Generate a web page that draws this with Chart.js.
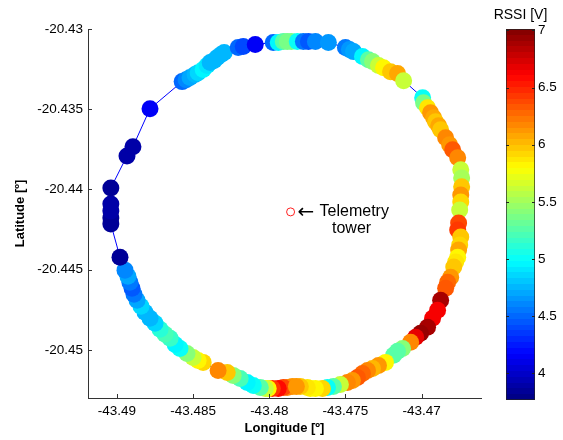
<!DOCTYPE html>
<html><head><meta charset="utf-8">
<script src="https://cdn.jsdelivr.net/npm/chart.js@4/dist/chart.umd.min.js"></script>
<style>
html,body{margin:0;padding:0;background:#fff;}
#wrap{position:relative;width:563px;height:440px;}
#main{position:absolute;left:0;top:0;}
#cb{position:absolute;left:490px;top:0;}
</style></head><body>
<div id="wrap"><canvas id="main" width="563" height="440"></canvas><canvas id="cb" width="73" height="440"></canvas></div>
<script>
const lon = [-43.47849,-43.47882,-43.47908,-43.47941,-43.47980,-43.48007,-43.48026,-43.48059,-43.48105,-43.48145,-43.48191,-43.48237,-43.48276,-43.48336,-43.48434,-43.48467,-43.48500,-43.48540,-43.48586,-43.48618,-43.48651,-43.48684,-43.48717,-43.48750,-43.48783,-43.48816,-43.48842,-43.48868,-43.48888,-43.48901,-43.48915,-43.48928,-43.48947,-43.48980,
-43.49040,-43.49040,-43.49040,-43.49040,-43.49040,-43.48934,-43.48895,-43.48783,-43.48572,-43.48546,-43.48520,-43.48487,-43.48467,-43.48434,-43.48408,-43.48388,-43.48362,-43.48342,-43.48316,-43.48296,-43.48204,-43.48171,-43.48092,-43.47974,-43.47941,-43.47908,-43.47882,-43.47855,-43.47816,-43.47776,-43.47743,-43.47697,-43.47612,-43.47500,-43.47474,-43.47447,-43.47388,-43.47349,-43.47322,-43.47283,-43.47250,-43.47204,-43.47158,-43.47118,
-43.46993,-43.46987,-43.46961,-43.46941,-43.46921,-43.46908,-43.46888,-43.46875,-43.46842,-43.46816,-43.46796,-43.46763,-43.46743,-43.46737,-43.46737,-43.46743,-43.46743,-43.46750,-43.46757,-43.46763,-43.46743,-43.46750,-43.46757,-43.46763,-43.46776,-43.46789,-43.46809,-43.46829,-43.46842,-43.46875,-43.46895,-43.46928,-43.46961,-43.47007,-43.47039,-43.47072,-43.47125,-43.47158,-43.47184,-43.47237,-43.47283,-43.47322,-43.47355,-43.47388,-43.47421,-43.47454,-43.47487,-43.47533,-43.47579,-43.47618,-43.47651,-43.47697,-43.47730,-43.47750,-43.47796,-43.47822];
const lat = [-20.45228,-20.45234,-20.45234,-20.45241,-20.45241,-20.45241,-20.45241,-20.45234,-20.45222,-20.45203,-20.45178,-20.45159,-20.45141,-20.45128,-20.45078,-20.45066,-20.45047,-20.45022,-20.44991,-20.44966,-20.44928,-20.44903,-20.44872,-20.44834,-20.44803,-20.44766,-20.44728,-20.44691,-20.44653,-20.44616,-20.44578,-20.44541,-20.44503,-20.44422,
-20.44216,-20.44178,-20.44134,-20.44091,-20.43991,-20.43791,-20.43734,-20.43497,-20.43328,-20.43316,-20.43303,-20.43284,-20.43272,-20.43253,-20.43228,-20.43209,-20.43197,-20.43178,-20.43159,-20.43147,-20.43116,-20.43109,-20.43097,-20.43084,-20.43084,-20.43078,-20.43078,-20.43078,-20.43078,-20.43078,-20.43078,-20.43078,-20.43084,-20.43116,-20.43128,-20.43141,-20.43172,-20.43191,-20.43203,-20.43228,-20.43241,-20.43266,-20.43278,-20.43322,
-20.43428,-20.43459,-20.43491,-20.43522,-20.43553,-20.43578,-20.43603,-20.43628,-20.43678,-20.43722,-20.43753,-20.43803,-20.43878,-20.43928,-20.43984,-20.44034,-20.44078,-20.44128,-20.44209,-20.44253,-20.44297,-20.44347,-20.44378,-20.44422,-20.44453,-20.44484,-20.44547,-20.44578,-20.44616,-20.44691,-20.44753,-20.44803,-20.44859,-20.44897,-20.44922,-20.44953,-20.44991,-20.45009,-20.45034,-20.45078,-20.45097,-20.45116,-20.45128,-20.45147,-20.45172,-20.45191,-20.45203,-20.45216,-20.45228,-20.45234,-20.45241,-20.45241,-20.45241,-20.45234,-20.45228,-20.45228];
const rssi = [6.12,6.15,6.40,6.60,6.45,5.80,5.60,5.25,5.00,4.98,5.22,5.40,5.95,6.15,5.90,5.80,5.60,5.40,5.00,4.95,5.15,5.20,5.10,4.85,4.75,4.78,4.85,4.70,4.55,4.45,4.55,4.70,4.60,3.85,
3.85,3.85,3.87,3.87,3.85,3.88,3.90,4.17,4.50,4.62,4.72,4.75,4.85,4.98,4.90,4.78,4.78,4.76,4.75,4.73,4.50,4.40,4.17,4.52,4.98,5.25,5.38,5.38,5.00,4.55,4.45,4.60,4.65,4.55,4.65,4.72,4.98,5.25,5.40,5.60,5.80,5.95,6.05,5.62,
5.00,5.35,5.85,6.10,6.05,5.95,6.05,5.95,6.15,6.12,6.35,6.20,5.62,5.50,5.95,6.10,5.90,5.60,6.40,6.45,5.95,5.92,6.05,5.82,5.85,5.95,6.10,6.30,6.35,6.90,6.65,6.65,6.90,6.95,6.70,6.15,5.40,5.25,5.28,5.80,6.10,6.00,6.15,6.30,6.35,6.10,6.15,5.60,5.25,5.00,5.90,5.82,5.80,5.85,5.98,6.10];
const towerLon = [-43.4786];
const towerLat = [-20.4414];
const towerArrow = '\u2190';
const towerLabel = ['Telemetry', 'tower'];
const xTicks = [-43.49, -43.485, -43.48, -43.475, -43.47];
const xTickLabels = ['-43.49', '-43.485', '-43.48', '-43.475', '-43.47'];
const yTicks = [-20.45, -20.445, -20.44, -20.435, -20.43];
const yTickLabels = ['-20.45', '-20.445', '-20.44', '-20.435', '-20.43'];
const xRange = [-43.4919, -43.4661];
const yRange = [-20.453, -20.43];
const cbTicks = [4, 4.5, 5, 5.5, 6, 6.5, 7];
const cbTickLabels = ['4', '4.5', '5', '5.5', '6', '6.5', '7'];
const cbRange = [3.766, 7.012];
const cbTitle = 'RSSI [V]';
const xTitle = 'Longitude [\u00ba]';
const yTitle = 'Latitude [\u00ba]';

const FONT = '"Liberation Sans", Arial, sans-serif';
Chart.defaults.font.family = FONT;
Chart.defaults.color = '#000';

function jetIdx(k) {
  const t = (k + 0.5) / 64;
  const c = x => Math.round(255 * Math.min(1, Math.max(0, x)));
  return 'rgb(' + c(1.5 - Math.abs(4 * t - 3)) + ',' + c(1.5 - Math.abs(4 * t - 2)) + ',' + c(1.5 - Math.abs(4 * t - 1)) + ')';
}
function jet(v) {
  let t = (v - cbRange[0]) / (cbRange[1] - cbRange[0]);
  t = Math.min(1, Math.max(0, t));
  return jetIdx(Math.min(63, Math.floor(t * 64)));
}

const pts = lon.map((x, i) => ({x: x, y: lat[i]}));

const mainDeco = {
  id: 'mainDeco',
  afterDraw(chart) {
    const ctx = chart.ctx, x = chart.scales.x, y = chart.scales.y, a = chart.chartArea;
    ctx.save();
    ctx.strokeStyle = '#333'; ctx.lineWidth = 1;
    ctx.beginPath();
    xTicks.forEach(v => { const px = Math.round(x.getPixelForValue(v)) + 0.5; ctx.moveTo(px, a.bottom); ctx.lineTo(px, a.bottom - 4); });
    yTicks.forEach(v => { const py = Math.round(y.getPixelForValue(v)) + 0.5; ctx.moveTo(a.left, py); ctx.lineTo(a.left + 4, py); });
    ctx.stroke();
    const tx = x.getPixelForValue(towerLon[0]), ty = y.getPixelForValue(towerLat[0]);
    ctx.fillStyle = '#000'; ctx.textBaseline = 'middle'; ctx.textAlign = 'left';
    ctx.font = '20px "DejaVu Sans", sans-serif';
    ctx.fillText(towerArrow, tx + 7, ty + 1);
    ctx.font = '16px ' + FONT;
    ctx.fillText(towerLabel[0], tx + 29, ty);
    ctx.textAlign = 'center';
    ctx.fillText(towerLabel[1], tx + 61, ty + 17);
    ctx.restore();
  }
};

new Chart(document.getElementById('main'), {
  type: 'scatter',
  data: {datasets: [
    {data: pts, pointRadius: 8.5, pointHoverRadius: 8.5, pointBackgroundColor: rssi.map(jet), pointBorderWidth: 0, borderWidth: 0, showLine: false, order: 1, clip: false},
    {data: pts, showLine: true, pointRadius: 0, borderColor: '#0000ff', borderWidth: 1, order: 2, clip: false, tension: 0},
    {data: towerLon.map((x, i) => ({x: x, y: towerLat[i]})), pointRadius: 4, pointBackgroundColor: 'rgba(0,0,0,0)', pointBorderColor: '#ff2020', pointBorderWidth: 1, order: 0}
  ]},
  options: {
    responsive: false, animation: false, devicePixelRatio: 1, events: [],
    layout: {padding: {left: 0, top: 29, right: 82, bottom: 0}},
    plugins: {legend: {display: false}, tooltip: {enabled: false}},
    scales: {
      x: {
        type: 'linear', min: xRange[0], max: xRange[1],
        afterBuildTicks: s => { s.ticks = xTicks.map(v => ({value: v})); },
        ticks: {callback: (v, i) => xTickLabels[i], autoSkip: false, maxRotation: 0, padding: 5, color: '#000', font: {size: 13.5}},
        grid: {display: false, drawTicks: false},
        border: {display: true, color: '#333', width: 1},
        title: {display: true, text: xTitle, color: '#000', font: {size: 13, weight: 'bold'}, padding: {top: 4, bottom: 4}},
        afterFit: s => { s.height = 42; }
      },
      y: {
        type: 'linear', min: yRange[0], max: yRange[1],
        afterBuildTicks: s => { s.ticks = yTicks.map(v => ({value: v})); },
        ticks: {callback: (v, i) => yTickLabels[i], autoSkip: false, padding: 5, color: '#000', font: {size: 13.5}},
        grid: {display: false, drawTicks: false},
        border: {display: true, color: '#333', width: 1},
        title: {display: true, text: yTitle, color: '#000', font: {size: 13, weight: 'bold'}, padding: {top: 13, bottom: 0}},
        afterFit: s => { s.width = 88; }
      }
    }
  },
  plugins: [mainDeco]
});

function cbGradient(chart) {
  const ys = chart.scales.y;
  if (!ys || !chart.chartArea) return '#888';
  const y0 = ys.getPixelForValue(cbRange[0]), y1 = ys.getPixelForValue(cbRange[1]);
  const g = chart.ctx.createLinearGradient(0, y0, 0, y1);
  for (let k = 0; k < 64; k++) {
    const col = jetIdx(k);
    g.addColorStop(k / 64, col);
    g.addColorStop((k + 1) / 64, col);
  }
  return g;
}

const cbDeco = {
  id: 'cbDeco',
  afterDraw(chart) {
    const ctx = chart.ctx, y = chart.scales.y, a = chart.chartArea;
    ctx.save();
    ctx.strokeStyle = '#222'; ctx.lineWidth = 1;
    ctx.beginPath();
    cbTicks.forEach(v => {
      const py = Math.round(y.getPixelForValue(v)) + 0.5;
      ctx.moveTo(a.left, py); ctx.lineTo(a.left + 3, py);
      ctx.moveTo(a.right, py); ctx.lineTo(a.right - 3, py);
    });
    ctx.stroke();
    ctx.font = '14px ' + FONT; ctx.fillStyle = '#000'; ctx.textAlign = 'center'; ctx.textBaseline = 'middle';
    ctx.fillText(cbTitle, (a.left + a.right) / 2, 15);
    ctx.restore();
  }
};

new Chart(document.getElementById('cb'), {
  type: 'bar',
  data: {labels: [''], datasets: [{data: [cbRange], backgroundColor: c => cbGradient(c.chart), borderColor: '#222', borderWidth: 1, borderSkipped: false, barPercentage: 1, categoryPercentage: 1}]},
  options: {
    responsive: false, animation: false, devicePixelRatio: 1, events: [],
    layout: {padding: {left: 16, top: 29, bottom: 40, right: 0}},
    plugins: {legend: {display: false}, tooltip: {enabled: false}},
    scales: {
      x: {display: false},
      y: {
        position: 'right', min: cbRange[0], max: cbRange[1],
        afterBuildTicks: s => { s.ticks = cbTicks.map(v => ({value: v})); },
        ticks: {callback: (v, i) => cbTickLabels[i], padding: 3, color: '#000', font: {size: 13.5}},
        grid: {display: false, drawTicks: false},
        border: {display: false},
        afterFit: s => { s.width = 28; }
      }
    }
  },
  plugins: [cbDeco]
});
</script>
</body></html>
